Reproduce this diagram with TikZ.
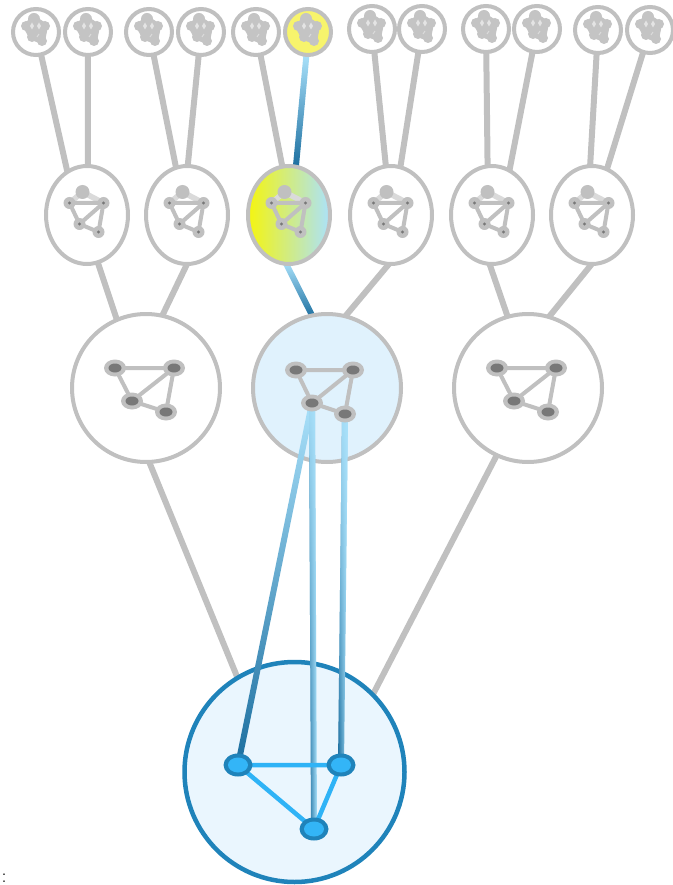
\documentclass[tikz,border=0pt]{standalone}
\usetikzlibrary{shapes.geometric,calc,fadings}
\pgfdeclarelayer{background}
\pgfsetlayers{background,main}

\definecolor{linegray}{HTML}{C0C0C0}
\definecolor{palegray}{HTML}{DADADA}
\definecolor{tinygray}{HTML}{C4C4C4}
\definecolor{tinylight}{HTML}{E4E4E4}
\definecolor{dotgray}{HTML}{787878}
\definecolor{hubfill}{HTML}{E0F2FD}
\definecolor{rootfill}{HTML}{EAF6FE}
\definecolor{rootblue}{HTML}{1F83BA}
\definecolor{nodeblue}{HTML}{33B5F7}
\definecolor{edgeblue}{HTML}{2FB3F6}
\definecolor{lightblue}{HTML}{ABE2FB}
\definecolor{midblue}{HTML}{5DB3E2}
\definecolor{deepblue}{HTML}{1A6D9E}
\definecolor{hiyellow}{HTML}{F5F50F}
\definecolor{softyellow}{HTML}{F7F46C}
\definecolor{mixgreen}{HTML}{C6EAA2}

\tikzfading[name=fadedown, top color=transparent!5, middle color=transparent!85, bottom color=transparent!100]

% thick shaded segment between two points, extended 4pt past both ends
\newcommand\gradseg[3]{%
  \path ($(#1)!-4pt!(#2)$) coordinate (gs1) ($(#2)!-4pt!(#1)$) coordinate (gs2);
  \path[#3] ($(gs1)!3pt!90:(gs2)$) -- ($(gs1)!3pt!-90:(gs2)$)
    -- ($(gs2)!3pt!90:(gs1)$) -- ($(gs2)!3pt!-90:(gs1)$) -- cycle;}

% four-vertex network inside a large circle
\newcommand\placebignet[2]{%
  \coordinate (#1a) at ($(#2)+(-31,-20)$);
  \coordinate (#1b) at ($(#2)+(28,-20)$);
  \coordinate (#1c) at ($(#2)+(-14,13)$);
  \coordinate (#1d) at ($(#2)+(20,24)$);}
\newcommand\drawbignet[1]{%
  \draw[netedge] (#1a) -- (#1b) (#1a) -- (#1c) -- (#1b) -- (#1d) -- (#1c);
  \foreach \q in {a,b,c,d}{%
    \fill[linegray] (#1\q) ellipse [x radius=11, y radius=8.5];
    \fill[dotgray] (#1\q) ellipse [x radius=6.5, y radius=4.5];}}

\begin{document}
\begin{tikzpicture}[x=1pt, y=-1pt,
  topnode/.style={circle, draw=linegray, line width=4pt, fill=white, minimum size=46pt, inner sep=0pt},
  ovalnode/.style={ellipse, draw=linegray, line width=4pt, fill=white, minimum width=82pt, minimum height=98pt, inner sep=0pt},
  bignode/.style={circle, draw=linegray, line width=4pt, fill=white, minimum size=148pt, inner sep=0pt},
  rootnode/.style={circle, draw=rootblue, line width=4.5pt, fill=rootfill, minimum size=220pt, inner sep=0pt},
  link/.style={draw=linegray, line width=6pt, shorten <=-4pt, shorten >=-4pt},
  netedge/.style={draw=linegray, line width=4pt},
  rootedge/.style={draw=edgeblue, line width=4.5pt},
  tinynet/.pic={
    \filldraw[tinygray, line width=6pt, line join=round]
      (-10,-6) -- (-2,-13) -- (9,-6) -- (6,9) -- (-4,5) -- cycle;
    \foreach \x/\y in {-10/-6, 9/-6, 6/9, -4/5}{\fill[tinygray] (\x,\y) circle [radius=5];}
    \fill[tinygray] (-2,-13) circle [radius=6];
    \fill[tinylight] (-6,-6) -- (-4,-9.5) -- (-2,-6) -- (-4,-2.5) -- cycle;
    \fill[tinylight] (1,-6) -- (3,-9.5) -- (5,-6) -- (3,-2.5) -- cycle;
    \draw[tinylight!70!tinygray, line width=1pt] (1,5) -- (3,2);
  },
  midnet/.pic={
    \draw[palegray, line width=5.5pt] (-17.5,-12) -- (-4.5,-23) -- (16.5,-12);
    \draw[linegray, line width=4pt] (-17.5,-12) -- (16.5,-12)
      (-17.5,-12) -- (-7.5,9) -- (16.5,-12) -- (11.5,17) -- (-7.5,9);
    \fill[linegray] (-4.5,-23) circle [radius=7];
    \foreach \x/\y in {-17.5/-12, 16.5/-12, -7.5/9, 11.5/17}{
      \fill[linegray] (\x,\y) circle [radius=6];
      \fill[dotgray] (\x,\y) circle [radius=1.7];}
  }]
\useasboundingbox (0,0) rectangle (672,885);

% leaves
\node[topnode] (t1) at (36,32) {};
\node[topnode] (t2) at (88,32) {};
\node[topnode] (t3) at (149,32) {};
\node[topnode] (t4) at (201,32) {};
\node[topnode] (t5) at (256,32) {};
\node[topnode, fill=softyellow] (t6) at (308,32) {};
\node[topnode] (t7) at (372,29) {};
\node[topnode] (t8) at (422,29) {};
\node[topnode] (t9) at (486,29) {};
\node[topnode] (t10) at (537,29) {};
\node[topnode] (t11) at (598,30) {};
\node[topnode] (t12) at (650,30) {};

% second level
\node[ovalnode] (o1) at (87,215) {};
\node[ovalnode] (o2) at (187,215) {};
\node[ovalnode, left color=hiyellow, middle color=mixgreen, right color=lightblue] (o3) at (289,215) {};
\node[ovalnode] (o4) at (391,215) {};
\node[ovalnode] (o5) at (492,215) {};
\node[ovalnode] (o6) at (592,215) {};

% third level
\node[bignode] (m1) at (146,388) {};
\node[bignode, fill=hubfill] (m2) at (327,388) {};
\node[bignode] (m3) at (528,388) {};

% root
\node[rootnode] (b) at (294.5,772) {};

\begin{pgfonlayer}{background}
  \draw[link] (t1.center) -- (o1.114);
  \draw[link] (t2.center) -- (o1.89);
  \draw[link] (t3.center) -- (o2.103);
  \draw[link] (t4.center) -- (o2.89);
  \draw[link] (t5.center) -- (o3.98);
  \draw[link] (t7.center) -- (o4.96);
  \draw[link] (t8.center) -- (o4.79);
  \draw[link] (t9.center) -- (o5.95);
  \draw[link] (t10.center) -- (o5.69);
  \draw[link] (t11.center) -- (o6.92);
  \draw[link] (t12.center) -- (o6.72);
  \draw[link] (o1.-77) -- (m1.113);
  \draw[link] (o2.-91) -- (m1.77);
  \draw[link] (o4.-94) -- (m2.75);
  \draw[link] (o5.-92) -- (m3.106);
  \draw[link] (o6.-92) -- (m3.73);
  \draw[link] (m1.-87) -- (b.121);
  \draw[link] (m3.-115) -- (b.45);
  \gradseg{t6.-94}{o3.82}{top color=lightblue, middle color=lightblue!55!midblue, bottom color=deepblue}
  \gradseg{o3.-92}{m2.102}{top color=lightblue, middle color=lightblue!50!midblue, bottom color=deepblue}
\end{pgfonlayer}

% inner networks
\foreach \n in {t1,t2,t3,t4,t5,t6,t7,t8,t9,t10,t11,t12}{\pic at (\n) {tinynet};}
\foreach \n in {o1,o2,o3,o4,o5,o6}{\pic at (\n) {midnet};}
\placebignet{ma}{m1}
\drawbignet{ma}
\placebignet{mc}{m3}
\drawbignet{mc}

% highlighted network and its links to the root network
\coordinate (ha) at ($(m2)+(-31,-18)$);
\coordinate (hb) at ($(m2)+(26,-18)$);
\coordinate (hc) at ($(m2)+(-15,15)$);
\coordinate (hd) at ($(m2)+(18,26)$);
\coordinate (ra) at ($(b)+(-56.5,-7)$);
\coordinate (rb) at ($(b)+(46.5,-7)$);
\coordinate (rc) at ($(b)+(19.5,57)$);

\gradseg{hc}{ra}{top color=lightblue, middle color=lightblue!60!midblue, bottom color=deepblue}
\gradseg{hc}{rc}{left color=deepblue, middle color=midblue, right color=lightblue}
\gradseg{hc}{rc}{fill=lightblue, path fading=fadedown}
\gradseg{hd}{rb}{left color=deepblue, middle color=midblue, right color=lightblue}
\gradseg{hd}{rb}{fill=lightblue, path fading=fadedown}

\draw[netedge] (ha) -- (hb) (ha) -- (hc) -- (hb) -- (hd) -- (hc);
\foreach \q in {ha,hb,hc,hd}{%
  \fill[linegray] (\q) ellipse [x radius=11, y radius=8.5];
  \fill[dotgray] (\q) ellipse [x radius=6.5, y radius=4.5];}

\draw[rootedge] (ra) -- (rb) -- (rc) -- cycle;
\foreach \q in {ra,rb,rc}{%
  \fill[rootblue] (\q) ellipse [x radius=14.5, y radius=11.5];
  \fill[nodeblue] (\q) ellipse [x radius=10, y radius=7.5];}

\node[anchor=base west, inner sep=0pt, font=\fontsize{20}{24}\selectfont] (colon) at (1.5,882) {:};
\end{tikzpicture}
\end{document}
